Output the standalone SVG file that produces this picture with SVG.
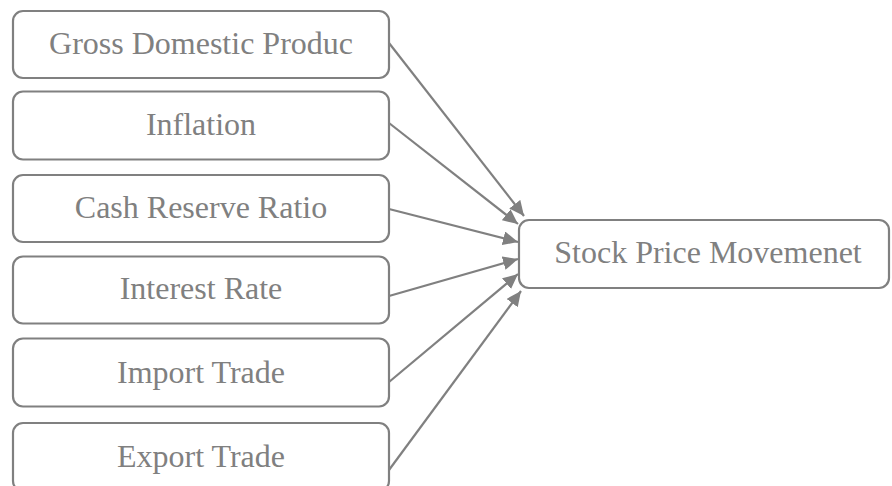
<svg xmlns="http://www.w3.org/2000/svg" width="892" height="486" viewBox="0 0 892 486">
<style>
.box{fill:#ffffff;stroke:#808080;stroke-width:2.2}
.lbl{font-family:'Liberation Serif', serif;font-size:32px;fill:#808080;text-anchor:middle}
.edge{stroke:#808080;stroke-width:2.2;fill:none;marker-end:url(#arr)}
</style>
<defs>
<marker id="arr" markerUnits="userSpaceOnUse" markerWidth="16" markerHeight="14" refX="15" refY="7" orient="auto">
<path d="M0,0 L15,7 L0,14 z" fill="#808080"/>
</marker>
</defs>
<rect width="892" height="486" fill="#ffffff"/>
<g id="connectors">
<line class="edge" x1="389" y1="43" x2="524" y2="216"/>
<line class="edge" x1="389" y1="123" x2="518" y2="224"/>
<line class="edge" x1="389" y1="209" x2="518" y2="242"/>
<line class="edge" x1="389" y1="296" x2="518" y2="259"/>
<line class="edge" x1="389" y1="382" x2="518" y2="274"/>
<line class="edge" x1="389" y1="470" x2="521" y2="291"/>
</g>
<g id="gdp"><rect class="box" x="13" y="11" width="376" height="67" rx="10"/><text class="lbl" x="201" y="54">Gross Domestic Produc</text></g>
<g id="inflation"><rect class="box" x="13" y="91.5" width="376" height="68" rx="10"/><text class="lbl" x="201" y="135">Inflation</text></g>
<g id="crr"><rect class="box" x="13" y="175" width="376" height="67" rx="10"/><text class="lbl" x="201" y="218">Cash Reserve Ratio</text></g>
<g id="interest"><rect class="box" x="13" y="256.5" width="376" height="67" rx="10"/><text class="lbl" x="201" y="299">Interest Rate</text></g>
<g id="import"><rect class="box" x="13" y="338.5" width="376" height="68" rx="10"/><text class="lbl" x="201" y="383">Import Trade</text></g>
<g id="export"><rect class="box" x="13" y="423" width="376" height="68" rx="10"/><text class="lbl" x="201" y="467">Export Trade</text></g>
<g id="stock"><rect class="box" x="519" y="220" width="370" height="68" rx="10"/><text class="lbl" x="708" y="263">Stock Price Movemenet</text></g>
</svg>
